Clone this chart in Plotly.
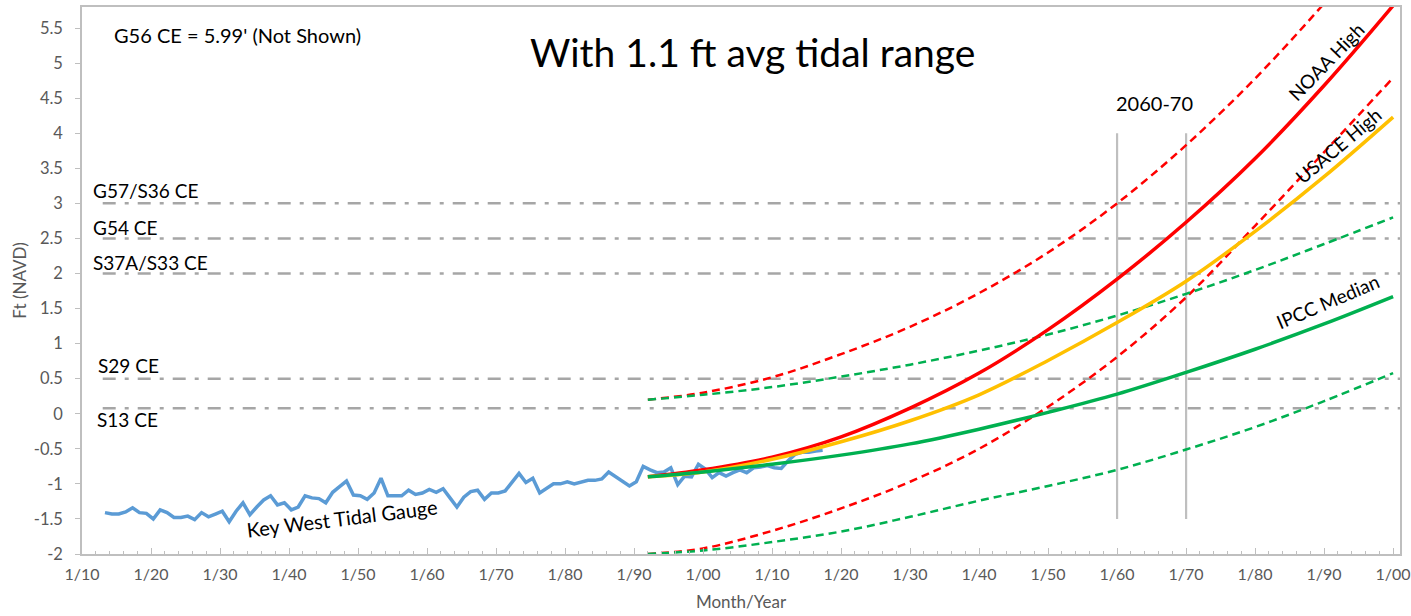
import plotly.graph_objects as go

# ---------------- data ----------------
gauge_years = list(range(1913, 2018))
gauge_ft = [
    -1.41, -1.43, -1.43, -1.40, -1.34, -1.41, -1.42, -1.50, -1.37, -1.41,
    -1.48, -1.48, -1.46, -1.51, -1.41, -1.47, -1.43, -1.39, -1.54, -1.39,
    -1.27, -1.44, -1.33, -1.23, -1.17, -1.30, -1.27, -1.37, -1.33, -1.17,
    -1.20, -1.21, -1.27, -1.12, -1.04, -0.96, -1.16, -1.17, -1.22, -1.13,
    -0.92, -1.17, -1.17, -1.17, -1.09, -1.15, -1.13, -1.08, -1.12, -1.07,
    -1.20, -1.33, -1.19, -1.11, -1.09, -1.22, -1.13, -1.13, -1.10, -0.98,
    -0.85, -0.98, -0.92, -1.13, -1.06, -1.00, -1.00, -0.97, -1.00, -0.97,
    -0.95, -0.95, -0.93, -0.83, -0.90, -0.97, -1.03, -0.97, -0.75, -0.80,
    -0.84, -0.83, -0.77, -1.01, -0.89, -0.90, -0.72, -0.79, -0.91, -0.84,
    -0.89, -0.84, -0.80, -0.84, -0.77, -0.76, -0.74, -0.77, -0.78, -0.67,
    -0.58, -0.55, -0.55, -0.53, -0.52,
]

proj_years = [1992, 2000, 2010, 2020, 2030, 2040, 2050, 2060, 2070, 2080, 2090, 2100]
noaa_high = [-0.90, -0.80, -0.62, -0.33, 0.08, 0.58, 1.20, 1.92, 2.73, 3.64, 4.68, 5.82]
noaa_upper = [0.20, 0.30, 0.52, 0.85, 1.24, 1.72, 2.30, 3.00, 3.83, 4.78, 5.85, 7.00]
noaa_lower = [-2.00, -1.92, -1.67, -1.35, -0.97, -0.50, 0.10, 0.81, 1.66, 2.68, 3.73, 4.79]
usace_high = [-0.90, -0.83, -0.65, -0.40, -0.10, 0.27, 0.76, 1.30, 1.89, 2.60, 3.38, 4.23]
ipcc_median = [-0.90, -0.83, -0.72, -0.59, -0.43, -0.22, 0.02, 0.28, 0.59, 0.92, 1.28, 1.67]
ipcc_upper = [0.20, 0.27, 0.38, 0.53, 0.70, 0.90, 1.13, 1.40, 1.71, 2.05, 2.42, 2.80]
ipcc_lower = [-2.00, -1.95, -1.83, -1.68, -1.47, -1.24, -1.03, -0.80, -0.51, -0.19, 0.18, 0.58]

ref_names = ["G57/S36 CE", "G54 CE", "S37A/S33 CE", "S29 CE", "S13 CE"]
ref_levels = [3.0, 2.5, 2.0, 0.5, 0.08]
ref_span = ["1913-01-01", "2100-12-31"]

period_years = [2060, 2070]
period_span = [-1.5, 4.0]

ytick_vals = [-2, -1.5, -1, -0.5, 0, 0.5, 1, 1.5, 2, 2.5, 3, 3.5, 4, 4.5, 5, 5.5]
ytick_text = ["-2", "-1.5", "-1", "-0.5", "0", "0.5", "1", "1.5", "2", "2.5",
              "3", "3.5", "4", "4.5", "5", "5.5"]

# ---------------- figure ----------------
FONT = "Lato"
gauge_x = [f"{y}-05-01" for y in gauge_years]
proj_x = [f"{y}-01-01" for y in proj_years]

fig = go.Figure()

for lvl in ref_levels:
    fig.add_trace(go.Scatter(
        x=ref_span, y=[lvl, lvl], mode="lines",
        line=dict(color="#A6A6A6", width=2.5, dash="13px,9px,4px,9px"),
        hoverinfo="skip", showlegend=False))

for yr in period_years:
    fig.add_trace(go.Scatter(
        x=[f"{yr}-01-01", f"{yr}-01-01"], y=period_span, mode="lines",
        line=dict(color="#BFBFBF", width=2.2), hoverinfo="skip", showlegend=False))

fig.add_trace(go.Scatter(x=gauge_x, y=gauge_ft, mode="lines",
                         line=dict(color="#5B9BD5", width=3.5), name="Key West Tidal Gauge"))

dash_pat = "8px,5px"
fig.add_trace(go.Scatter(x=proj_x, y=noaa_upper, mode="lines", line_shape="spline",
                         line=dict(color="#FF0000", width=2.5, dash=dash_pat), name="NOAA upper"))
fig.add_trace(go.Scatter(x=proj_x, y=noaa_lower, mode="lines", line_shape="spline",
                         line=dict(color="#FF0000", width=2.5, dash=dash_pat), name="NOAA lower"))
fig.add_trace(go.Scatter(x=proj_x, y=ipcc_upper, mode="lines", line_shape="spline",
                         line=dict(color="#00B050", width=2.5, dash=dash_pat), name="IPCC upper"))
fig.add_trace(go.Scatter(x=proj_x, y=ipcc_lower, mode="lines", line_shape="spline",
                         line=dict(color="#00B050", width=2.5, dash=dash_pat), name="IPCC lower"))
fig.add_trace(go.Scatter(x=proj_x, y=noaa_high, mode="lines", line_shape="spline",
                         line=dict(color="#FF0000", width=3.5), name="NOAA High"))
fig.add_trace(go.Scatter(x=proj_x, y=usace_high, mode="lines", line_shape="spline",
                         line=dict(color="#FFC000", width=3.5), name="USACE High"))
fig.add_trace(go.Scatter(x=proj_x, y=ipcc_median, mode="lines", line_shape="spline",
                         line=dict(color="#00B050", width=3.5), name="IPCC Median"))

x_font = dict(family=FONT, size=16, color="#595959")
y_font = dict(family=FONT, size=16.5, color="#595959")

fig.update_layout(
    width=1411, height=616,
    margin=dict(l=82, r=11, t=7, b=62, autoexpand=False),
    paper_bgcolor="white", plot_bgcolor="white",
    showlegend=False,
    font=dict(family=FONT, color="#000000"),
    xaxis=dict(
        type="date", range=["1910-01-01", "2101-01-01"], automargin=False,
        tick0="1910-01-01", dtick="M120", tickformat="%-m/%y",
        ticks="inside", ticklen=6, tickwidth=1.3, tickcolor="#BFBFBF",
        minor=dict(dtick="M24", ticks="inside", ticklen=3, tickcolor="#BFBFBF", tickwidth=1.3),
        showline=True, linecolor="#BFBFBF", linewidth=1.5, mirror=True,
        showgrid=False, zeroline=False,
        tickfont=x_font, ticklabelstandoff=5,
        title=dict(text="Month/Year", font=dict(family=FONT, size=17, color="#595959"), standoff=14),
    ),
    yaxis=dict(
        range=[-2, 5.8], tickvals=ytick_vals, ticktext=ytick_text, automargin=False,
        ticks="outside", ticklen=5, tickcolor="#BFBFBF", tickwidth=1.3,
        showline=True, linecolor="#BFBFBF", linewidth=1.5, mirror=True,
        showgrid=False, zeroline=False,
        tickfont=y_font, ticklabelstandoff=9,
        title=dict(text="Ft (NAVD)", font=dict(family=FONT, size=17, color="#595959"), standoff=3),
    ),
)

def note(text, x, y, size, angle=0, xanchor="center", color="#000000"):
    fig.add_annotation(text=text, x=x, y=y, xref="paper", yref="paper",
                       xanchor=xanchor, yanchor="middle", showarrow=False,
                       textangle=angle, font=dict(family=FONT, size=size, color=color))

note("With 1.1 ft avg tidal range", 0.5090, 0.9177, 39)
note("G56 CE = 5.99' (Not Shown)", 0.0225, 0.9488, 20, xanchor="left")
label_pos = [(0.0068, 0.6654), (0.0068, 0.596), (0.0068, 0.5338), (0.0106, 0.3455), (0.0098, 0.245)]
for name, (px, py) in zip(ref_names, label_pos):
    note(name, px, py, 19, xanchor="left")
note("2060-70", 0.8141, 0.8245, 20)
note("NOAA High", 0.9440, 0.9000, 19, angle=-46)
note("USACE High", 0.9530, 0.7470, 19, angle=-40)
note("IPCC Median", 0.9450, 0.4620, 19, angle=-23)
note("Key West Tidal Gauge", 0.1975, 0.0660, 20, angle=-7)

fig.write_html("out.html")
